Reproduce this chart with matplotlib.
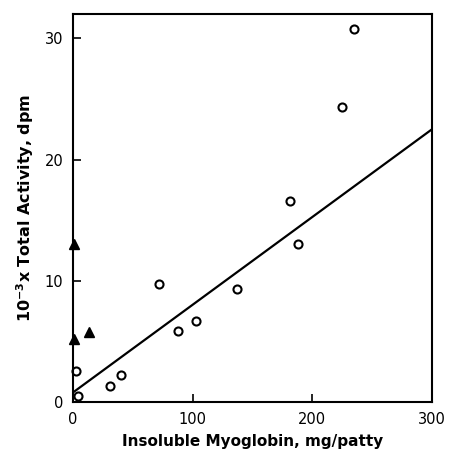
import matplotlib
matplotlib.use("Agg")
import matplotlib.pyplot as plt
import numpy as np

# Data
circle_x = [2.5, 4.2, 30.9, 40.4, 71.9, 87.7, 103.0, 137.3, 181.6, 188.3, 224.5, 235.0]
circle_y = [2.6, 0.5, 1.3, 2.25, 9.7, 5.9, 6.65, 9.3, 16.6, 13.0, 24.3, 30.8]
triangle_x = [1.0, 1.0, 13.4]
triangle_y = [13.0, 5.2, 5.8]
fit_x = [0, 300]
fit_y = [0.8, 22.5]

x_ticks = [0, 100, 200, 300]
y_ticks = [0, 10, 20, 30]

fig = plt.figure(figsize=(4.49, 4.51), dpi=100)
ax = fig.add_axes([0.163, 0.1086, 0.799, 0.860])

ax.plot(fit_x, fit_y, color="black", lw=1.6, solid_capstyle="butt")
ax.plot(circle_x, circle_y, linestyle="none", marker="o", ms=5.8,
        mfc="white", mec="black", mew=1.5, clip_on=False)
ax.plot(triangle_x, triangle_y, linestyle="none", marker="^", ms=6.5,
        color="black", clip_on=False)

ax.set_xlim(0, 300)
ax.set_ylim(0, 32)
ax.set_xticks(x_ticks)
ax.set_yticks(y_ticks)
ax.tick_params(direction="in", length=6, width=1.2, labelsize=10.5, pad=7)
for s in ax.spines.values():
    s.set_linewidth(1.5)

ax.set_xlabel("Insoluble Myoglobin, mg/patty", fontsize=11, fontweight="bold", labelpad=5)
ax.set_ylabel(r"10$^{\mathbf{-3}}$x Total Activity, dpm", fontsize=11.5, fontweight="bold", labelpad=6)

fig.savefig("out.png", dpi=100)
